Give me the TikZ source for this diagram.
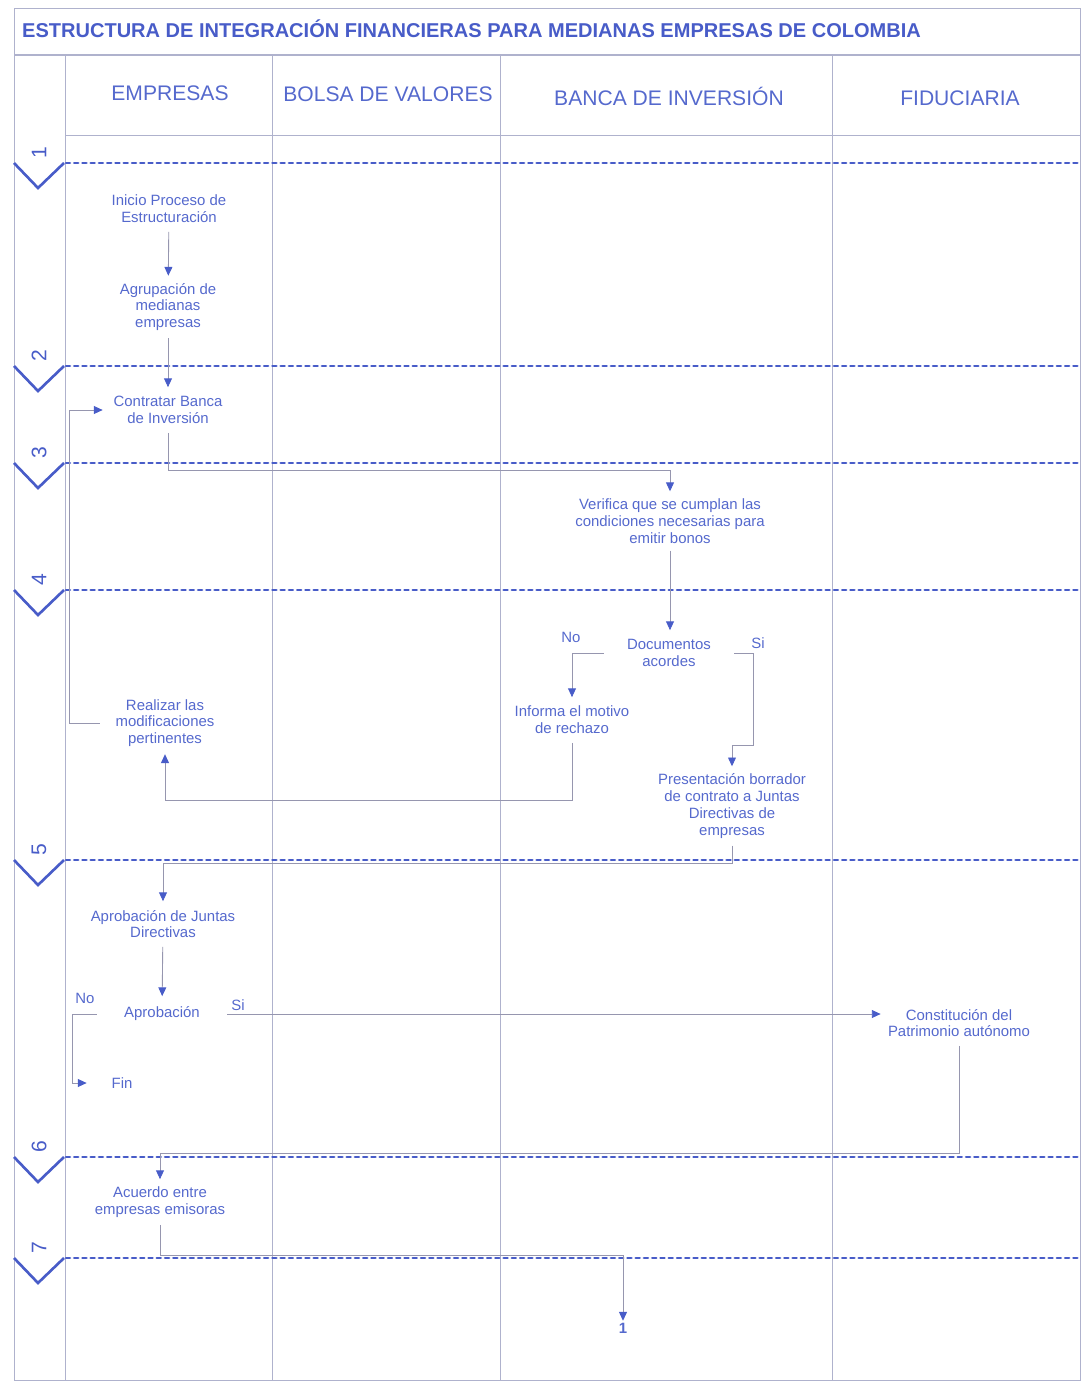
\documentclass[tikz,border=0pt]{standalone}
\usepackage{fontspec}
\setmainfont{Liberation Sans}
\usetikzlibrary{arrows.meta}

\definecolor{azul}{RGB}{72,92,200}
\definecolor{tinta}{RGB}{85,105,205}
\definecolor{gris}{RGB}{150,150,175}
\definecolor{grisclaro}{RGB}{175,178,205}

\tikzset{
  tarea/.style={text=tinta, font=\fontsize{8.5}{9.6}\selectfont, align=center,
    inner sep=4pt, minimum width=2.6cm, minimum height=0.9cm},
  etiqueta/.style={text=tinta, font=\fontsize{8.5}{9.6}\selectfont, inner sep=1pt},
  cabecera/.style={text=tinta, font=\fontsize{12}{14}\selectfont},
  numero/.style={text=azul, font=\fontsize{12}{14}\selectfont, rotate=90, inner sep=0pt},
  flujo/.style={draw=gris, line width=0.5pt,
    -{Triangle[length=5pt,width=4.5pt,color=azul]}},
  etapa/.style={draw=azul, line width=1.6pt, line cap=round, dash pattern=on 2.2pt off 2.5pt},
  chevron/.style={draw=azul, line width=1.5pt},
  carril/.style={draw=grisclaro, line width=0.5pt}
}

\begin{document}
\begin{tikzpicture}[x=0.02cm, y=-0.02cm]

        \useasboundingbox (0,0) rectangle (1084,1387);

        % marco y carriles
        \draw[carril] (14,8) rectangle (1080,1380);
        \draw[carril, line width=1pt] (14,55) -- (1080,55);
        \draw[carril] (65,135) -- (1080,135);
        \foreach \x in {65,272,500,832}
            \draw[carril] (\x,55) -- (\x,1380);

        \node[anchor=west, text=azul, font=\bfseries\fontsize{11.4}{13}\selectfont] (titulo) at (16,29)
            {ESTRUCTURA DE INTEGRACIÓN FINANCIERAS PARA MEDIANAS EMPRESAS DE COLOMBIA};

        \node[cabecera] (empresas) at (170,93) {EMPRESAS};
        \node[cabecera] (bolsa) at (388,94) {BOLSA DE VALORES};
        \node[cabecera] (banca) at (669,96) {BANCA DE INVERSIÓN};
        \node[cabecera] (fiduciaria) at (960,98) {FIDUCIARIA};

        % etapas
        \foreach \n/\y in {1/163,2/366,3/463,4/590,5/860,6/1157,7/1258} {
            \draw[etapa] (66,\y) -- (1080,\y);
            \draw[chevron] (14,\y) -- (38,\y+25) -- (64,\y);
            \node[numero] (num\n) at (39,\y-10) {\n};
        }

        % actividades
        \node[tarea] (inicio) at (169,209) {Inicio Proceso de\\Estructuración};
        \node[tarea] (agrupacion) at (168,307) {Agrupación de\\medianas\\empresas};
        \node[tarea] (contratar) at (168,410) {Contratar Banca\\de Inversión};
        \node[tarea, minimum width=4.2cm] (verifica) at (670,521) {Verifica que se cumplan las\\condiciones necesarias para\\emitir bonos};
        \node[tarea] (documentos) at (669,653) {Documentos\\acordes};
        \node[tarea] (informa) at (572,720) {Informa el motivo\\de rechazo};
        \node[tarea] (presentacion) at (732,806) {Presentación borrador\\de contrato a Juntas\\Directivas de\\empresas};
        \node[tarea] (realizar) at (165,723) {Realizar las\\modificaciones\\pertinentes};
        \node[tarea] (aprobjuntas) at (163,924) {Aprobación de Juntas\\Directivas};
        \node[tarea, minimum height=0.7cm] (aprobacion) at (162,1014) {Aprobación};
        \node[tarea, minimum width=1.4cm] (fin) at (122,1083) {Fin};
        \node[tarea] (constitucion) at (959,1023) {Constitución del\\Patrimonio autónomo};
        \node[tarea] (acuerdo) at (160,1202) {Acuerdo entre\\empresas emisoras};
        \node[etiqueta, font=\bfseries\fontsize{8.5}{9.6}\selectfont] (conector) at (623,1328) {1};

        \node[etiqueta] (no1) at (571,637) {No};
        \node[etiqueta] (si1) at (758,643) {Si};
        \node[etiqueta] (no2) at (85,998) {No};
        \node[etiqueta] (si2) at (238,1005) {Si};

        % flujo
        \draw[flujo] (inicio) -- (agrupacion);
        \draw[flujo] (agrupacion) -- (contratar);
        \draw[flujo] (contratar.south) -- ++(0,38) -| (verifica.north);
        \draw[flujo] (verifica.south) -- (verifica.south |- documentos.north);
        \draw[flujo] (documentos.west) -| (informa.north);
        \draw[flujo] (documentos.east) -- ++(19,0) -- ++(0,92) -| (presentacion.north);
        \draw[flujo] (informa.south) -- ++(0,58) -| (realizar.south);
        \draw[flujo] (realizar.west) -- ++(-30,0) |- (contratar.west);
        \draw[flujo] (presentacion.south) -- ++(0,18) -| (aprobjuntas.north);
        \draw[flujo] (aprobjuntas) -- (aprobacion);
        \draw[flujo] (aprobacion.west) -- ++(-24,0) |- (fin.west);
        \draw[flujo] (aprobacion.east) -- (aprobacion.east -| constitucion.west);
        \draw[flujo] (constitucion.south) -- ++(0,108) -| (acuerdo.north);
        \draw[flujo] (acuerdo.south) -- ++(0,31) -| (conector.north);

\end{tikzpicture}
\end{document}
